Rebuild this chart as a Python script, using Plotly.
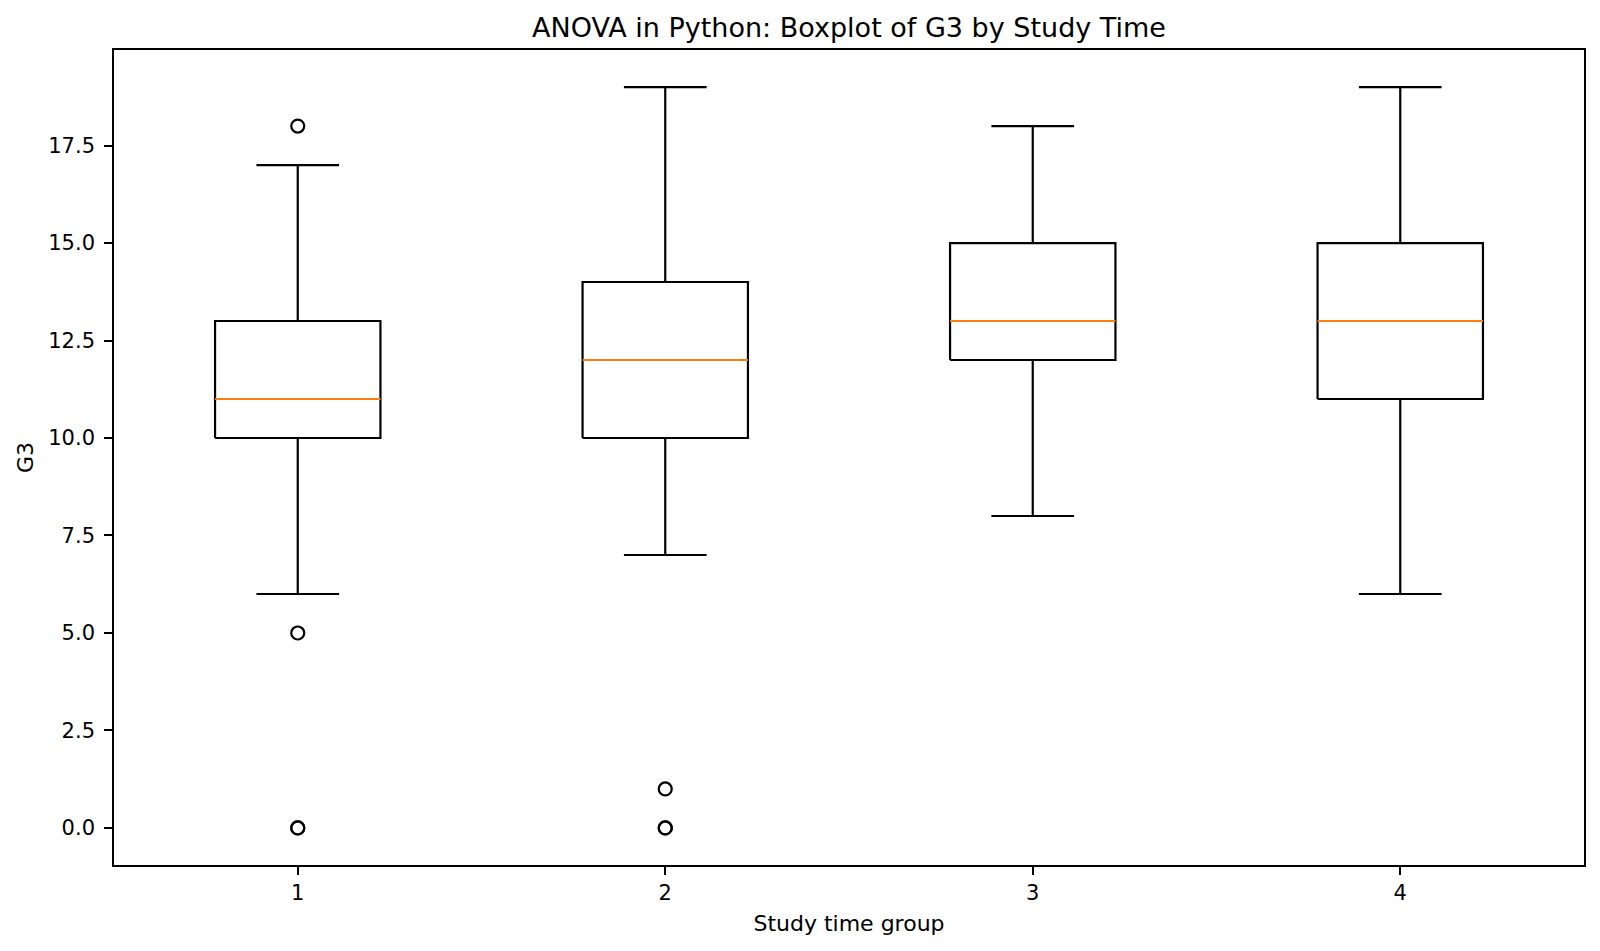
import plotly.graph_objects as go

groups = [1, 2, 3, 4]
q1 = [10, 10, 12, 11]
median = [11, 12, 13, 13]
q3 = [13, 14, 15, 15]
whisk_lo = [6, 7, 8, 6]
whisk_hi = [17, 19, 18, 19]
outliers = [[18, 5, 0, 0], [1, 0, 0], [], []]
y_ticks = [0.0, 2.5, 5.0, 7.5, 10.0, 12.5, 15.0, 17.5]

BOX_HALF = 0.225
CAP_HALF = 0.1125
LW = 2.2

fig = go.Figure()

for g, a, m, b, lo, hi, outs in zip(groups, q1, median, q3, whisk_lo, whisk_hi, outliers):
    xs = [g - BOX_HALF, g + BOX_HALF, g + BOX_HALF, g - BOX_HALF, g - BOX_HALF, None,
          g, g, None, g, g, None,
          g - CAP_HALF, g + CAP_HALF, None, g - CAP_HALF, g + CAP_HALF]
    ys = [a, a, b, b, a, None,
          a, lo, None, b, hi, None,
          lo, lo, None, hi, hi]
    fig.add_trace(go.Scatter(x=xs, y=ys, mode="lines", line=dict(color="black", width=LW),
                             showlegend=False, hoverinfo="skip"))
    fig.add_trace(go.Scatter(x=[g - BOX_HALF, g + BOX_HALF], y=[m, m], mode="lines",
                             line=dict(color="#ff7f0e", width=LW), showlegend=False))
    if outs:
        fig.add_trace(go.Scatter(x=[g] * len(outs), y=outs, mode="markers",
                                 marker=dict(symbol="circle-open", size=13, color="black",
                                             line=dict(width=2.2)),
                                 showlegend=False))

font = "DejaVu Sans"
fig.update_layout(
    width=1600, height=951,
    margin=dict(l=114, r=16, t=50, b=86),
    paper_bgcolor="white", plot_bgcolor="white",
    font=dict(family=font, size=21, color="black"),
    title=dict(text="ANOVA in Python: Boxplot of G3 by Study Time", x=0.5 * (114 + 1584) / 1600,
               xanchor="center", y=1 - 27.5 / 951, yanchor="middle",
               font=dict(family=font, size=27, color="black")),
    xaxis=dict(range=[0.5, 4.5], tickvals=groups, ticktext=[str(g) for g in groups],
               showgrid=False, zeroline=False, showline=True, mirror=True,
               linecolor="black", linewidth=1.6, ticks="outside", ticklen=8, tickwidth=1.6,
               tickcolor="black",
               title=dict(text="Study time group", font=dict(family=font, size=22), standoff=12)),
    yaxis=dict(range=[-0.95, 19.95], tickvals=y_ticks, ticktext=[f"{v:.1f}" for v in y_ticks],
               showgrid=False, zeroline=False, showline=True, mirror=True,
               linecolor="black", linewidth=1.6, ticks="outside", ticklen=8, tickwidth=1.6,
               tickcolor="black", ticklabelstandoff=5,
               title=dict(text="G3", font=dict(family=font, size=22), standoff=9)),
)

fig.write_html("out.html")
